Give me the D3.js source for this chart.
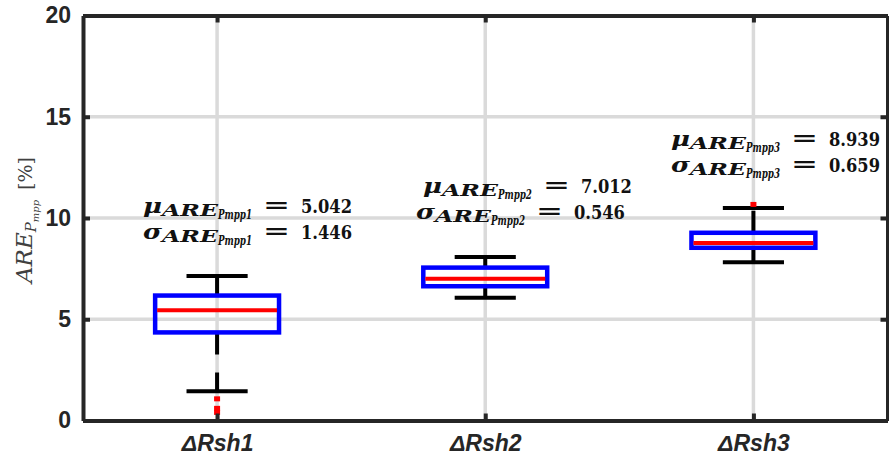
<!DOCTYPE html>
<html>
<head>
<meta charset="utf-8">
<script src="https://cdn.jsdelivr.net/npm/d3@7"></script>
<style>
  html, body { margin: 0; padding: 0; background: #fff; }
  svg { display: block; }
</style>
</head>
<body>
<svg id="chart" width="889" height="459"></svg>
<script>
// ---------- data ----------
const categories = ["ΔRsh1", "ΔRsh2", "ΔRsh3"];
const q1 = [4.35, 6.63, 8.53];
const medians = [5.45, 7.0, 8.77];
const q3 = [6.17, 7.55, 9.27];
const whiskerLow = [1.45, 6.06, 7.82];
const whiskerHigh = [7.13, 8.08, 10.5];
const outliers = [[1.07, 0.6, 0.4], [], [10.67]];
const yTicks = [0, 5, 10, 15, 20];
const muValues = ["5.042", "7.012", "8.939"];
const sigmaValues = ["1.446", "0.546", "0.659"];
const subIndex = ["1", "2", "3"];
// annotation anchors (data coordinates): right end x and baseline y of each line
const muEndX = [1.503, 2.547, 3.472];
const sigmaEndX = [1.503, 2.521, 3.472];
const muBaseY = [10.25, 11.25, 13.55];
const sigmaBaseY = [8.96, 9.97, 12.25];

// ---------- setup ----------
const svg = d3.select("#chart");
const x = d3.scaleLinear().domain([0.5, 3.5]).range([83, 887.5]);
const y = d3.scaleLinear().domain([0, 20]).range([420.5, 15.5]);
const axisColor = "#262626";
const gridColor = "#dadada";
const boxHalf = 0.231;   // data units
const capHalf = 0.114;

// gridlines
const grid = svg.append("g");
grid.selectAll("line.h").data(yTicks.filter(t => t > 0 && t < 20)).enter()
  .append("line").attr("class", "h")
  .attr("x1", x(0.5)).attr("x2", x(3.5))
  .attr("y1", d => y(d)).attr("y2", d => y(d))
  .attr("stroke", gridColor).attr("stroke-width", 3.5);
grid.selectAll("line.v").data([1, 2, 3]).enter()
  .append("line").attr("class", "v")
  .attr("x1", d => x(d)).attr("x2", d => x(d))
  .attr("y1", y(0)).attr("y2", y(20))
  .attr("stroke", gridColor).attr("stroke-width", 3.5);

// boxes
const boxes = svg.append("g");
categories.forEach((c, i) => {
  const cx = i + 1;
  const g = boxes.append("g");
  g.append("line")
    .attr("x1", x(cx)).attr("x2", x(cx))
    .attr("y1", y(q1[i])).attr("y2", y(whiskerLow[i]))
    .attr("stroke", "#000").attr("stroke-width", 4).attr("stroke-dasharray", "22,18");
  g.append("line")
    .attr("x1", x(cx)).attr("x2", x(cx))
    .attr("y1", y(q3[i])).attr("y2", y(whiskerHigh[i]))
    .attr("stroke", "#000").attr("stroke-width", 4).attr("stroke-dasharray", "22,18");
  [whiskerLow[i], whiskerHigh[i]].forEach(v => {
    g.append("line")
      .attr("x1", x(cx - capHalf)).attr("x2", x(cx + capHalf))
      .attr("y1", y(v)).attr("y2", y(v))
      .attr("stroke", "#000").attr("stroke-width", 4);
  });
  g.append("rect")
    .attr("x", x(cx - boxHalf)).attr("width", x(cx + boxHalf) - x(cx - boxHalf))
    .attr("y", y(q3[i])).attr("height", y(q1[i]) - y(q3[i]))
    .attr("fill", "none").attr("stroke", "#0000ff").attr("stroke-width", 4.5);
  g.append("line")
    .attr("x1", x(cx - boxHalf) + 2).attr("x2", x(cx + boxHalf) - 2)
    .attr("y1", y(medians[i])).attr("y2", y(medians[i]))
    .attr("stroke", "#ff0000").attr("stroke-width", 4);
  g.selectAll("rect.o").data(outliers[i]).enter()
    .append("rect").attr("class", "o")
    .attr("x", x(cx) - 3).attr("width", 6)
    .attr("y", d => y(d) - 2.5).attr("height", 5)
    .attr("fill", "#ff0000");
});

// axes
const yAxisL = d3.axisLeft(y).tickValues(yTicks).tickSize(-7).tickSizeOuter(0).tickPadding(12);
const yAxisR = d3.axisRight(y).tickValues(yTicks).tickSize(-7).tickSizeOuter(0).tickFormat("");
const xAxisB = d3.axisBottom(x).tickValues([1, 2, 3]).tickSize(-7).tickSizeOuter(0).tickPadding(14)
  .tickFormat(d => categories[d - 1]);
const xAxisT = d3.axisTop(x).tickValues([1, 2, 3]).tickSize(-7).tickSizeOuter(0).tickFormat("");

function styleAxis(g) {
  g.select(".domain").attr("stroke", axisColor).attr("stroke-width", 4);
  g.selectAll(".tick line").attr("stroke", axisColor).attr("stroke-width", 4);
  g.selectAll(".tick text").attr("fill", axisColor)
    .style("font-family", "'Liberation Sans', Arial, sans-serif").style("font-weight", "bold");
}
svg.append("g").attr("transform", `translate(${x(0.5)},0)`).call(yAxisL).call(styleAxis)
  .selectAll(".tick text").style("font-size", "23px");
svg.append("g").attr("transform", `translate(${x(3.5)},0)`).call(yAxisR).call(styleAxis);
svg.append("g").attr("transform", `translate(0,${y(0)})`).call(xAxisB).call(styleAxis)
  .selectAll(".tick text").style("font-size", "23px").style("font-style", "italic");
svg.append("g").attr("transform", `translate(0,${y(20)})`).call(xAxisT).call(styleAxis);

// y label
const yl = svg.append("text")
  .attr("transform", `translate(32,${283}) rotate(-90)`)
  .attr("fill", "#404040")
  .style("font-family", "'DejaVu Serif', 'Liberation Serif', serif");
yl.append("tspan").text("ARE").style("font-size", "23px").style("font-style", "italic");
yl.append("tspan").text("P").attr("dy", 4).style("font-size", "15px").style("font-style", "italic");
yl.append("tspan").text("mpp").attr("dy", 3).style("font-size", "10px").style("font-style", "italic");
yl.append("tspan").text("[%]").attr("dx", 10).attr("dy", -7).style("font-size", "19px");

// annotations
const serif = "'DejaVu Serif', 'Liberation Serif', serif";
function annLine(sym, val, idx, endX, baseY) {
  const E = x(endX), B = y(baseY);
  const g = svg.append("g").style("font-family", serif).style("font-weight", "bold").attr("fill", "#111");
  g.append("text").attr("x", E - 209).attr("y", B).attr("textLength", 19).attr("lengthAdjust", "spacingAndGlyphs")
    .style("font-size", "21px").style("font-style", "italic").text(sym);
  g.append("text").attr("x", E - 190).attr("y", B + 3).attr("textLength", 56).attr("lengthAdjust", "spacingAndGlyphs")
    .style("font-size", "16px").style("font-style", "italic").text("ARE");
  g.append("text").attr("x", E - 134).attr("y", B + 6).attr("textLength", 34).attr("lengthAdjust", "spacingAndGlyphs")
    .style("font-size", "12px").style("font-style", "italic").text("Pmpp" + idx);
  g.append("text").attr("x", E - 89).attr("y", B - 1).attr("textLength", 27).attr("lengthAdjust", "spacingAndGlyphs")
    .style("font-size", "21px").text("=");
  g.append("text").attr("x", E).attr("y", B).attr("text-anchor", "end").attr("textLength", 51).attr("lengthAdjust", "spacingAndGlyphs")
    .style("font-size", "19px").text(val);
}
categories.forEach((c, i) => {
  annLine("μ", muValues[i], subIndex[i], muEndX[i], muBaseY[i]);
  annLine("σ", sigmaValues[i], subIndex[i], sigmaEndX[i], sigmaBaseY[i]);
});
</script>
</body>
</html>
